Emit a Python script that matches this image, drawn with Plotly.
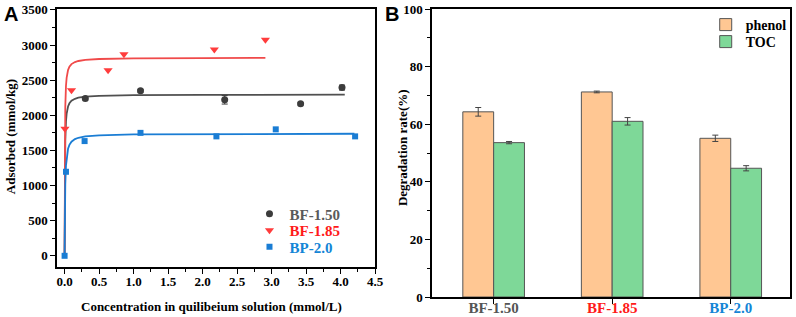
import plotly.graph_objects as go

# ---------------- Panel A data ----------------
bf150_x = [0.30, 1.10, 2.32, 3.42, 4.02]
bf150_y = [2239, 2350, 2220, 2165, 2395]
bf150_err = [20, 20, 60, 20, 35]

bf185_x = [0.005, 0.10, 0.63, 0.86, 2.17, 2.91]
bf185_y = [1810, 2357, 2640, 2870, 2935, 3075]

bp20_x = [0.0, 0.02, 0.29, 1.10, 2.20, 3.06, 4.21]
bp20_y = [0, 1196, 1633, 1750, 1700, 1800, 1700]

# fitted (Langmuir) curves
fit_gray_x = [0, 0.005, 0.01, 0.02, 0.03, 0.05, 0.07, 0.1, 0.15, 0.2, 0.3, 0.5, 1.0, 2.0, 4.06]
fit_gray_y = [0, 1275, 1639, 1912, 2025, 2125, 2171, 2207, 2235, 2250, 2265, 2277, 2286, 2290, 2293]

fit_red_x = [0, 0.005, 0.01, 0.02, 0.03, 0.05, 0.07, 0.1, 0.15, 0.2, 0.3, 0.5, 1.0, 2.0, 2.91]
fit_red_y = [0, 1692, 2115, 2417, 2538, 2644, 2692, 2729, 2758, 2773, 2789, 2801, 2811, 2815, 2817]

fit_blue_x = [0, 0.005, 0.01, 0.02, 0.03, 0.05, 0.07, 0.1, 0.15, 0.2, 0.3, 0.5, 1.0, 2.0, 4.2]
fit_blue_y = [0, 717, 1015, 1282, 1405, 1523, 1579, 1624, 1661, 1680, 1700, 1715, 1728, 1734, 1737]

xa_ticks = [0.0, 0.5, 1.0, 1.5, 2.0, 2.5, 3.0, 3.5, 4.0, 4.5]
ya_ticks = [0, 500, 1000, 1500, 2000, 2500, 3000, 3500]

# ---------------- Panel B data ----------------
samples = ["BF-1.50", "BF-1.85", "BP-2.0"]
sample_colors = ["#555555", "#ff1a1a", "#1485d6"]
phenol = [64.3, 71.2, 55.1]
phenol_err = [1.5, 0.3, 1.1]
toc = [53.6, 61.0, 44.7]
toc_err = [0.4, 1.3, 0.9]
yb_ticks = [0, 20, 40, 60, 80, 100]

GRAY, RED, BLUE = "#3c3c3c", "#ff3c3c", "#1a7dd4"
SERIF = "Liberation Serif"

fig = go.Figure()

# fit lines
for fx, fy, c in [(fit_gray_x, fit_gray_y, "#505050"), (fit_red_x, fit_red_y, "#f04a4a"),
                  (fit_blue_x, fit_blue_y, "#1a7dd4")]:
    fig.add_trace(go.Scatter(x=fx, y=fy, mode="lines", line=dict(color=c, width=1.8),
                             showlegend=False, hoverinfo="skip", xaxis="x", yaxis="y"))

fig.add_trace(go.Scatter(x=bf150_x, y=bf150_y, mode="markers", name="<b><span style='color:#5a5a5a'>BF-1.50</span></b>",
                         marker=dict(symbol="circle", size=7, color=GRAY),
                         error_y=dict(type="data", array=bf150_err, color=GRAY, thickness=1, width=3),
                         xaxis="x", yaxis="y", legend="legend"))
fig.add_trace(go.Scatter(x=bf185_x, y=bf185_y, mode="markers", name="<b><span style='color:#ff1a1a'>BF-1.85</span></b>",
                         marker=dict(symbol="triangle-down", size=8, color=RED),
                         xaxis="x", yaxis="y", legend="legend3"))
fig.add_trace(go.Scatter(x=bp20_x, y=bp20_y, mode="markers", name="<b><span style='color:#1485d6'>BP-2.0</span></b>",
                         marker=dict(symbol="square", size=6, color=BLUE),
                         xaxis="x", yaxis="y", legend="legend4"))

# bars
xs = list(range(len(samples)))
fig.add_trace(go.Bar(x=xs, y=phenol, name="<b>phenol</b>", marker=dict(color="#ffc793", line=dict(color="#555555", width=1)),
                     error_y=dict(type="data", array=phenol_err, color="#444444", thickness=1, width=3),
                     xaxis="x2", yaxis="y2", legend="legend2"))
fig.add_trace(go.Bar(x=xs, y=toc, name="<b>TOC</b>", marker=dict(color="#7ed898", line=dict(color="#555555", width=1)),
                     error_y=dict(type="data", array=toc_err, color="#444444", thickness=1, width=3),
                     xaxis="x2", yaxis="y2", legend="legend5"))

tickfont = dict(family=SERIF, size=13, color="black")
axis_common = dict(showline=True, linecolor="black", linewidth=1.5, mirror=True, ticks="outside",
                   ticklen=5, tickwidth=1.2, tickcolor="black", showgrid=False, zeroline=False,
                   tickfont=tickfont, automargin=False)

def leg(x, y, size):
    return dict(x=x, y=y, xanchor="left", yanchor="middle", bgcolor="rgba(0,0,0,0)",
                font=dict(family=SERIF, size=size, color="black"), tracegroupgap=0, itemwidth=30)

def ann(text, x, y, size, angle=0, family=SERIF):
    return dict(text=text, x=x, y=y, xref="paper", yref="paper", textangle=angle,
                xanchor="center", yanchor="middle", showarrow=False,
                font=dict(family=family, size=size, color="black"))

fig.update_layout(
    width=796, height=317,
    margin=dict(l=57, r=4, t=9, b=20),
    paper_bgcolor="white", plot_bgcolor="white",
    barmode="group", bargap=0.48, bargroupgap=0,
    xaxis=dict(domain=[0, 0.434], range=[-0.11, 4.5], tickvals=xa_ticks,
               ticktext=[f"<b>{v:.1f}</b>" for v in xa_ticks], ticklabelstandoff=-3,
               minor=dict(dtick=0.25, tick0=0, ticks="outside", ticklen=3, tickcolor="black"),
               anchor="y", **axis_common),
    yaxis=dict(domain=[0.104, 1], range=[-160, 3513], tickvals=ya_ticks,
               ticktext=[f"<b>{v}</b>" for v in ya_ticks],
               minor=dict(dtick=250, tick0=0, ticks="outside", ticklen=3, tickcolor="black"),
               anchor="x", **axis_common),
    xaxis2=dict(domain=[0.5116, 1], range=[-0.52, 2.5], tickvals=xs,
                ticktext=[f"<b><span style='color:{c}'>{s}</span></b>" for s, c in zip(samples, sample_colors)],
                ticklabelstandoff=-9,
                anchor="y2", **{**axis_common, "tickfont": dict(family=SERIF, size=15, color="black")}),
    yaxis2=dict(domain=[0, 1], range=[0, 100], tickvals=yb_ticks,
                ticktext=[f"<b>{v}</b>" for v in yb_ticks],
                minor=dict(dtick=10, tick0=0, ticks="outside", ticklen=3, tickcolor="black"),
                anchor="x2", **axis_common),
    legend=leg(0.2626, (297 - 214) / 288, 15),
    legend3=leg(0.2626, (297 - 230.5) / 288, 15),
    legend4=leg(0.2626, (297 - 247) / 288, 15),
    legend2=leg(0.885, (297 - 25) / 288, 14),
    legend5=leg(0.885, (297 - 42) / 288, 14),
    showlegend=True,
    annotations=[
        ann("<b>Adsorbed (mmol/kg)</b>", (10 - 57) / 735, (297 - 137) / 288, 13, -90),
        ann("<b>Concentration in quilibeium solution (mmol/L)</b>", (212 - 57) / 735, (297 - 306) / 288, 13),
        ann("<b>Degradation rate(%)</b>", (403 - 57) / 735, (297 - 148) / 288, 13, -90),
        ann("<b>A</b>", (11 - 57) / 735, (297 - 14) / 288, 20, 0, "Liberation Sans"),
        ann("<b>B</b>", (393 - 57) / 735, (297 - 14) / 288, 20, 0, "Liberation Sans"),
    ],
)

fig.write_html("out.html", config={"displayModeBar": False},
               post_script="document.body.style.margin='0px';")
